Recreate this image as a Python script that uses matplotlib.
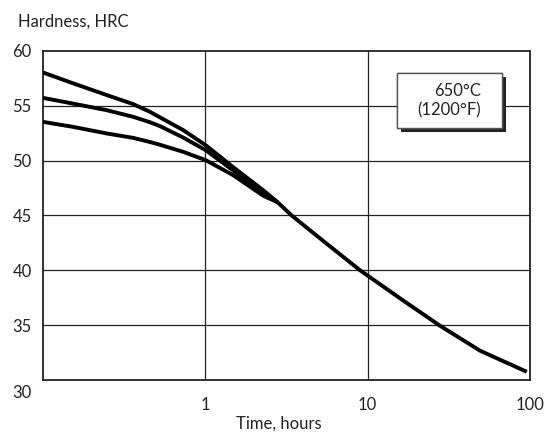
import matplotlib
matplotlib.use('Agg')
import matplotlib.pyplot as plt
import matplotlib.patheffects as pe
from matplotlib.patches import Rectangle
from matplotlib.transforms import ScaledTranslation

plt.rcParams['font.family'] = ['Lato', 'DejaVu Sans']

# hardness curves (time in hours, HRC)
early_time = [0.1, 0.154, 0.248, 0.36, 0.458, 0.527, 0.734, 1.01, 1.49, 2.28, 2.8]
top_hrc = [58.05, 57.05, 55.98, 55.16, 54.45, 53.95, 52.78, 51.4, 49.4, 47.3, 46.2]
mid_hrc = [55.73, 55.2, 54.6, 54.0, 53.5, 53.15, 52.1, 50.95, 49.1, 47.1, 46.2]
low_hrc = [53.54, 53.08, 52.48, 52.08, 51.7, 51.45, 50.8, 50.04, 48.67, 46.8, 46.2]

# common tail after the curves merge
tail_time = [2.8, 3.41, 5.61, 9.0, 10.35, 16.6, 27.9, 49.3, 95.5]
tail_hrc = [46.2, 45.0, 42.42, 40.0, 39.37, 37.24, 34.95, 32.67, 30.75]

x_ticks = [1, 10, 100]
x_ticklabels = ['1', '10', '100']
y_ticks = [30, 35, 40, 45, 50, 55, 60]

fig = plt.figure(figsize=(5.53, 4.38), dpi=100)
ax = fig.add_axes([0.0772, 0.1324, 0.8812, 0.7512])

line_kw = dict(color='black', lw=2.8, solid_capstyle='butt', solid_joinstyle='round', zorder=3)
for h in [top_hrc, mid_hrc, low_hrc]:
    ax.plot(early_time, h, **line_kw)
ax.plot(tail_time, tail_hrc, **line_kw)

ax.set_xscale('log')
ax.set_xlim(0.1, 100)
ax.set_ylim(30, 60)
ax.set_xticks(x_ticks)
ax.set_xticklabels(x_ticklabels)
ax.minorticks_off()
ax.set_yticks(y_ticks)
ax.tick_params(length=0, labelsize=12, colors='#222222')
ax.tick_params(axis='x', pad=12)
ax.tick_params(axis='y', pad=8)

for v in [1, 10]:
    ax.axvline(v, color='#222222', lw=0.9, zorder=1)
for v in [35, 40, 45, 50, 55]:
    ax.axhline(v, color='#222222', lw=0.9, zorder=1)

for s in ax.spines.values():
    s.set_linewidth(1.3)
    s.set_color('#222222')

# push the "30" label down below the frame
lbl30 = ax.get_yticklabels()[0]
lbl30.set_transform(lbl30.get_transform() + ScaledTranslation(0, -11 / 100, fig.dpi_scale_trans))

ax.set_xlabel('Time, hours', fontsize=12, color='#222222')
ax.xaxis.set_label_coords(0.485, -0.108)
fig.text(0.0325, 0.95, 'Hardness, HRC', fontsize=12, color='#222222', va='center', ha='left')

# temperature box with drop shadow
box = Rectangle((0.727, 0.766), 0.2155, 0.167, transform=ax.transAxes,
                facecolor='white', edgecolor='#555555', lw=1.0, zorder=4)
box.set_path_effects([pe.withSimplePatchShadow(offset=(3, -3), shadow_rgbFace='#222222', alpha=1.0),
                      pe.Normal()])
ax.add_patch(box)
ax.text(0.834, 0.849, '650°C\n(1200°F)', transform=ax.transAxes, fontsize=12,
        ha='center', va='center', multialignment='right', linespacing=1.3,
        color='#222222', zorder=5)

fig.savefig('out.png', dpi=100)
